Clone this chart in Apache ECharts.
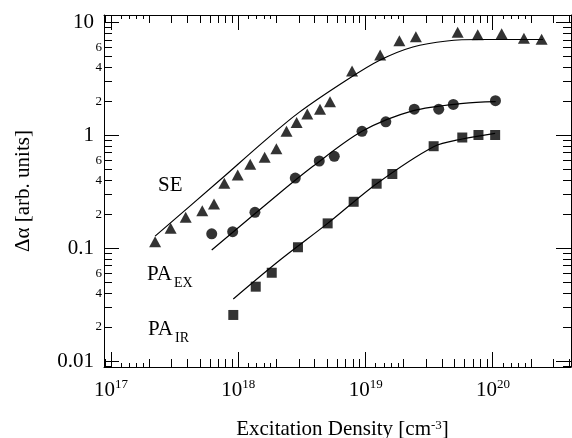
<!DOCTYPE html>
<html><head><meta charset="utf-8">
<script src="https://cdn.jsdelivr.net/npm/echarts@6/dist/echarts.min.js"></script>
<style>html,body{margin:0;padding:0;background:#fff}#c{width:572px;height:438px}</style>
</head><body><div id="c"></div>
<script>
// ---- data (excitation density [cm^-3], Δα [arb. units]) ----
const seDensity = [2.22e17, 2.94e17, 3.86e17, 5.21e17, 6.44e17, 7.76e17, 9.89e17, 1.24e18, 1.61e18, 1.99e18, 2.39e18, 2.87e18, 3.48e18, 4.38e18, 5.25e18, 7.82e18, 1.30e19, 1.84e19, 2.48e19, 5.28e19, 7.59e19, 1.17e20, 1.75e20, 2.41e20];
const seSignal  = [0.114, 0.150, 0.188, 0.215, 0.247, 0.376, 0.446, 0.554, 0.639, 0.762, 1.09, 1.30, 1.55, 1.71, 1.99, 3.73, 5.16, 6.91, 7.50, 8.20, 7.81, 7.97, 7.26, 7.11];

const exDensity = [6.18e17, 9.03e17, 1.35e18, 2.80e18, 4.32e18, 5.67e18, 9.36e18, 1.44e19, 2.41e19, 3.75e19, 4.88e19, 1.046e20];
const exSignal  = [0.134, 0.140, 0.208, 0.419, 0.593, 0.653, 1.087, 1.32, 1.71, 1.71, 1.88, 2.03];

const irDensity = [9.13e17, 1.37e18, 1.83e18, 2.94e18, 5.03e18, 8.05e18, 1.22e19, 1.62e19, 3.42e19, 5.74e19, 7.69e19, 1.04e20];
const irSignal  = [0.0256, 0.0456, 0.0606, 0.102, 0.166, 0.258, 0.373, 0.455, 0.802, 0.958, 1.008, 1.008];

// fitted curves
const seFitDensity = [2.22e17, 7.18e17, 1.6e18, 3.0e18, 7.10e18, 1.30e19, 2.35e19, 4.35e19, 7.91e19, 2.47e20];
const seFitSignal  = [0.128, 0.402, 0.89, 1.60, 3.10, 4.66, 6.08, 6.87, 7.08, 7.08];
const exFitDensity = [6.18e17, 2.125e18, 3.88e18, 9.36e18, 2.37e19, 5.85e19, 1.05e20];
const exFitSignal  = [0.0964, 0.3105, 0.5355, 1.087, 1.656, 1.925, 1.99];
const irFitDensity = [9.13e17, 2.125e18, 5.03e18, 1.22e19, 3.42e19, 5.74e19, 1.04e20];
const irFitSignal  = [0.0355, 0.0786, 0.166, 0.373, 0.794, 0.929, 1.044];

// axes
const xMin = 8.81e16, xMax = 4.1e20;
const yMin = 0.00885, yMax = 11.68;
const xTickExponents = [17, 18, 19, 20];
const yTickLabels = ['0.01', '0.1', '1', '10'];
const xDecadeStarts = [1e16, 1e17, 1e18, 1e19, 1e20];
const yDecadeStarts = [1e-3, 1e-2, 1e-1, 1, 10];
const subMultipliers = [2, 3, 4, 5, 6, 7, 8, 9];
const fineMultipliers = [1.2, 1.4, 1.6, 1.8];
const yMinorLabelValues = [6, 4, 2, 0.6, 0.4, 0.2, 0.06, 0.04, 0.02];
const yMinorLabelTexts  = ['6', '4', '2', '6', '4', '2', '6', '4', '2'];

const FONT = '"Liberation Serif", "DejaVu Serif", serif';
const zip = (a, b) => a.map((v, i) => [v, b[i]]);

// tick lists
const MAJ = 15, SUB = 8, FINE = 4;
const xTicks = [], yTicks = [];
xDecadeStarts.forEach(d => {
  xTicks.push([d, MAJ, 1]);
  subMultipliers.forEach(m => xTicks.push([d * m, SUB, 1]));
  fineMultipliers.forEach(m => xTicks.push([d * m, FINE, 1]));
});
yDecadeStarts.forEach(d => {
  yTicks.push([1e18, d, MAJ]);
  subMultipliers.forEach(m => yTicks.push([1e18, d * m, SUB]));
});
const xTicksIn = xTicks.filter(t => t[0] > xMin && t[0] < xMax);
const yTicksIn = yTicks.filter(t => t[1] > yMin && t[1] < yMax);

function crisp(v) { return Math.round(v - 0.5) + 0.5; }

function renderXTick(params, api) {
  const cs = params.coordSys;
  const x = crisp(api.coord([api.value(0), 1])[0]);
  const len = api.value(1);
  const b = cs.y + cs.height, t = cs.y;
  return { type: 'group', children: [
    { type: 'line', shape: { x1: x, y1: b, x2: x, y2: b - len }, style: { stroke: '#000', lineWidth: 1 } },
    { type: 'line', shape: { x1: x, y1: t, x2: x, y2: t + len }, style: { stroke: '#000', lineWidth: 1 } }
  ]};
}
function renderYTick(params, api) {
  const cs = params.coordSys;
  const y = crisp(api.coord([1e18, api.value(1)])[1]);
  const len = api.value(2);
  const l = cs.x, r = cs.x + cs.width;
  return { type: 'group', children: [
    { type: 'line', shape: { x1: l, y1: y, x2: l + len, y2: y }, style: { stroke: '#000', lineWidth: 1 } },
    { type: 'line', shape: { x1: r, y1: y, x2: r - len, y2: y }, style: { stroke: '#000', lineWidth: 1 } }
  ]};
}
function renderYMinorLabel(params, api) {
  const cs = params.coordSys;
  const y = api.coord([1e18, api.value(1)])[1];
  return { type: 'text', x: cs.x - 2, y: y,
    style: { text: yMinorLabelTexts[params.dataIndex], fill: '#000', font: '13px ' + FONT, align: 'right', verticalAlign: 'middle' } };
}

function isDecade(v) { const l = Math.log10(v); return Math.abs(l - Math.round(l)) < 1e-6; }

const axisCommonX = { type: 'log', logBase: 10, min: xMin, max: xMax, splitLine: { show: false },
  axisLine: { show: true, lineStyle: { color: '#000', width: 1 } }, axisTick: { show: false } };
const axisCommonY = { type: 'log', logBase: 10, min: yMin, max: yMax, splitLine: { show: false },
  axisLine: { show: true, lineStyle: { color: '#000', width: 1 } }, axisTick: { show: false } };

const chart = echarts.init(document.getElementById('c'), null, { renderer: 'canvas' });
chart.setOption({
  animation: false,
  backgroundColor: '#fff',
  grid: { left: 104, top: 15, right: 1, bottom: 71, containLabel: false, outerBoundsMode: 'none' },
  xAxis: [
    Object.assign({}, axisCommonX, {
      position: 'bottom',
      axisLabel: { show: true, margin: 11, color: '#000', fontFamily: FONT, fontSize: 21,
        formatter: v => {
          if (!isDecade(v)) return '';
          const e = Math.round(Math.log10(v));
          if (xTickExponents.indexOf(e) < 0) return '';
          return '{b|10}{s|' + e + '}';
        },
        rich: { b: { fontFamily: FONT, fontSize: 21, lineHeight: 24, color: '#000' },
                s: { fontFamily: FONT, fontSize: 13, verticalAlign: 'top', color: '#000' } } },
      name: 'Excitation Density [cm{s|-3}]', nameLocation: 'middle', nameGap: 52,
      nameTextStyle: { color: '#000', fontFamily: FONT, fontSize: 21, padding: [0, 0, 0, 10],
        rich: { s: { fontFamily: FONT, fontSize: 13, verticalAlign: 'top', color: '#000' } } }
    }),
    Object.assign({}, axisCommonX, { position: 'top', axisLabel: { show: false } })
  ],
  yAxis: [
    Object.assign({}, axisCommonY, {
      position: 'left',
      axisLabel: { show: true, margin: 10, color: '#000', fontFamily: FONT, fontSize: 21,
        formatter: v => {
          if (!isDecade(v)) return '';
          const s = String(Number(v.toPrecision(6)));
          return yTickLabels.indexOf(s) >= 0 ? s : '';
        } },
      name: 'Δα [arb. units]', nameLocation: 'middle', nameGap: 70,
      nameTextStyle: { color: '#000', fontFamily: FONT, fontSize: 21 }
    }),
    Object.assign({}, axisCommonY, { position: 'right', axisLabel: { show: false } })
  ],
  graphic: [
    { type: 'text', left: 158, top: 175, style: { text: 'SE', font: '21px ' + FONT, fill: '#000' } },
    { type: 'text', left: 147, top: 264, style: { text: 'PA', font: '21px ' + FONT, fill: '#000' } },
    { type: 'text', left: 174, top: 276, style: { text: 'EX', font: '14px ' + FONT, fill: '#000' } },
    { type: 'text', left: 148, top: 319, style: { text: 'PA', font: '21px ' + FONT, fill: '#000' } },
    { type: 'text', left: 175, top: 331, style: { text: 'IR', font: '14px ' + FONT, fill: '#000' } }
  ],
  series: [
    { type: 'custom', name: 'xticks', renderItem: renderXTick, data: xTicksIn, encode: { x: 0, y: 2 }, silent: true, clip: false, z: 5 },
    { type: 'custom', name: 'yticks', renderItem: renderYTick, data: yTicksIn, encode: { x: 0, y: 1 }, silent: true, clip: false, z: 5 },
    { type: 'custom', name: 'yminorlabels', renderItem: renderYMinorLabel, data: yMinorLabelValues.map(v => [1e18, v]), encode: { x: 0, y: 1 }, silent: true, clip: false, z: 5 },
    { type: 'line', name: 'SE fit', data: zip(seFitDensity, seFitSignal), smooth: 0.3, showSymbol: false, lineStyle: { color: '#000', width: 1.2 }, z: 3 },
    { type: 'line', name: 'PA_EX fit', data: zip(exFitDensity, exFitSignal), smooth: 0.3, showSymbol: false, lineStyle: { color: '#000', width: 1.2 }, z: 3 },
    { type: 'line', name: 'PA_IR fit', data: zip(irFitDensity, irFitSignal), smooth: 0.3, showSymbol: false, lineStyle: { color: '#000', width: 1.2 }, z: 3 },
    { type: 'scatter', name: 'SE', data: zip(seDensity, seSignal), symbol: 'triangle', symbolSize: [12, 11], itemStyle: { color: '#000' }, z: 4 },
    { type: 'scatter', name: 'PA_EX', data: zip(exDensity, exSignal), symbol: 'circle', symbolSize: 11, itemStyle: { color: '#000' }, z: 4 },
    { type: 'scatter', name: 'PA_IR', data: zip(irDensity, irSignal), symbol: 'rect', symbolSize: 10, itemStyle: { color: '#000' }, z: 4 }
  ]
});
</script>
</body></html>
